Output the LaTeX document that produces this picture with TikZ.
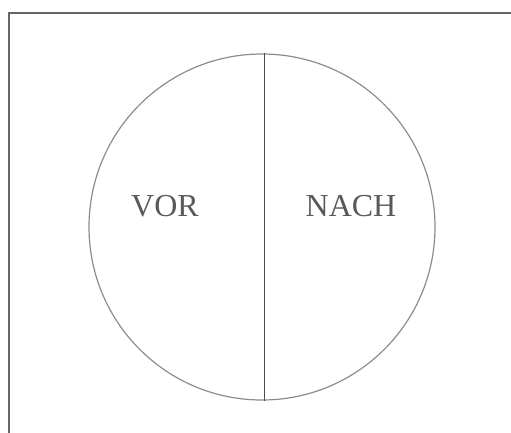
\documentclass[tikz,border=0pt]{standalone}
\usepackage{fontspec}
\setmainfont{Liberation Serif}
\begin{document}
\begin{tikzpicture}[x=1pt,y=-1pt,
  frame/.style={draw=black!60,line width=1.3pt},
  ring/.style={draw=black!45,line width=1.2pt},
  divider/.style={draw=black!70,line width=1.3pt},
  lbl/.style={text=black!65,font=\fontsize{32}{36}\selectfont,inner sep=0pt}]
\useasboundingbox (0,0) rectangle (511,433);
\coordinate (fb) at (9,433);
\coordinate (fc) at (9,13);
\coordinate (fr) at (511,13);
\draw[frame] (fb) -- (fc) -- (fr);
\node[ring,circle,minimum size=346pt,inner sep=0pt] (c) at (262,227) {};
\draw[divider] (c.north -| 264.5,0) -- (c.south -| 264.5,0);
\node[lbl] (vor) at (165,206) {VOR};
\node[lbl] (nach) at (351,206) {NACH};
\end{tikzpicture}
\end{document}
